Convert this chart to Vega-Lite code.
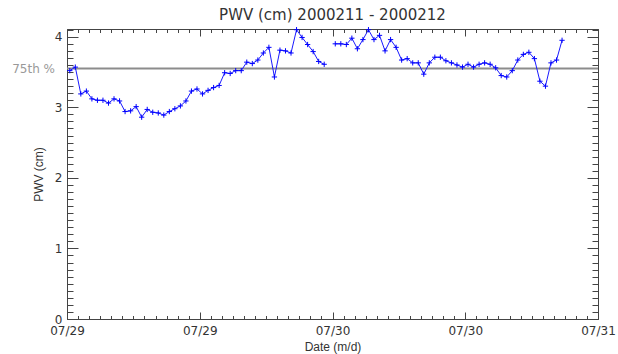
{
  "$schema": "https://vega.github.io/schema/vega-lite/v6.json",
  "width": 531,
  "height": 290,
  "autosize": "none",
  "padding": {"left": 67, "top": 29, "right": 20, "bottom": 35},
  "background": "white",
  "title": {"text": "PWV (cm) 2000211 - 2000212", "font": "DejaVu Sans", "fontSize": 15, "fontWeight": "normal", "color": "#333333", "offset": 2},
  "config": {
    "view": {"stroke": null},
    "axis": {"grid": false, "domainColor": "#444444", "tickColor": "#444444", "labelColor": "#333333", "titleColor": "#333333", "labelFont": "DejaVu Sans", "labelFontSize": 12, "titleFont": "Liberation Sans", "titleFontSize": 12, "titleFontWeight": "normal", "labelOverlap": false, "labelFlush": false, "labelBound": false}
  },
  "datasets": {
    "pwv": [
      {"t": "2000-07-29T00:15:00Z", "v": 3.52, "s": 1},
      {"t": "2000-07-29T00:45:00Z", "v": 3.57, "s": 1},
      {"t": "2000-07-29T01:15:00Z", "v": 3.19, "s": 1},
      {"t": "2000-07-29T01:45:00Z", "v": 3.23, "s": 1},
      {"t": "2000-07-29T02:15:00Z", "v": 3.12, "s": 1},
      {"t": "2000-07-29T02:45:00Z", "v": 3.10, "s": 1},
      {"t": "2000-07-29T03:15:00Z", "v": 3.10, "s": 1},
      {"t": "2000-07-29T03:45:00Z", "v": 3.06, "s": 1},
      {"t": "2000-07-29T04:15:00Z", "v": 3.12, "s": 1},
      {"t": "2000-07-29T04:45:00Z", "v": 3.09, "s": 1},
      {"t": "2000-07-29T05:15:00Z", "v": 2.94, "s": 1},
      {"t": "2000-07-29T05:45:00Z", "v": 2.95, "s": 1},
      {"t": "2000-07-29T06:15:00Z", "v": 3.01, "s": 1},
      {"t": "2000-07-29T06:45:00Z", "v": 2.86, "s": 1},
      {"t": "2000-07-29T07:15:00Z", "v": 2.97, "s": 1},
      {"t": "2000-07-29T07:45:00Z", "v": 2.93, "s": 1},
      {"t": "2000-07-29T08:15:00Z", "v": 2.92, "s": 1},
      {"t": "2000-07-29T08:45:00Z", "v": 2.89, "s": 1},
      {"t": "2000-07-29T09:15:00Z", "v": 2.94, "s": 1},
      {"t": "2000-07-29T09:45:00Z", "v": 2.98, "s": 1},
      {"t": "2000-07-29T10:15:00Z", "v": 3.02, "s": 1},
      {"t": "2000-07-29T10:45:00Z", "v": 3.09, "s": 1},
      {"t": "2000-07-29T11:15:00Z", "v": 3.23, "s": 1},
      {"t": "2000-07-29T11:45:00Z", "v": 3.26, "s": 1},
      {"t": "2000-07-29T12:15:00Z", "v": 3.19, "s": 1},
      {"t": "2000-07-29T12:45:00Z", "v": 3.24, "s": 1},
      {"t": "2000-07-29T13:15:00Z", "v": 3.28, "s": 1},
      {"t": "2000-07-29T13:45:00Z", "v": 3.31, "s": 1},
      {"t": "2000-07-29T14:15:00Z", "v": 3.49, "s": 1},
      {"t": "2000-07-29T14:45:00Z", "v": 3.48, "s": 1},
      {"t": "2000-07-29T15:15:00Z", "v": 3.52, "s": 1},
      {"t": "2000-07-29T15:45:00Z", "v": 3.52, "s": 1},
      {"t": "2000-07-29T16:15:00Z", "v": 3.64, "s": 1},
      {"t": "2000-07-29T16:45:00Z", "v": 3.62, "s": 1},
      {"t": "2000-07-29T17:15:00Z", "v": 3.67, "s": 1},
      {"t": "2000-07-29T17:45:00Z", "v": 3.77, "s": 1},
      {"t": "2000-07-29T18:15:00Z", "v": 3.85, "s": 1},
      {"t": "2000-07-29T18:45:00Z", "v": 3.43, "s": 1},
      {"t": "2000-07-29T19:15:00Z", "v": 3.81, "s": 1},
      {"t": "2000-07-29T19:45:00Z", "v": 3.80, "s": 1},
      {"t": "2000-07-29T20:15:00Z", "v": 3.77, "s": 1},
      {"t": "2000-07-29T20:45:00Z", "v": 4.10, "s": 1},
      {"t": "2000-07-29T21:15:00Z", "v": 3.99, "s": 1},
      {"t": "2000-07-29T21:45:00Z", "v": 3.89, "s": 1},
      {"t": "2000-07-29T22:15:00Z", "v": 3.79, "s": 1},
      {"t": "2000-07-29T22:45:00Z", "v": 3.65, "s": 1},
      {"t": "2000-07-29T23:15:00Z", "v": 3.61, "s": 1},
      {"t": "2000-07-30T00:15:00Z", "v": 3.90, "s": 2},
      {"t": "2000-07-30T00:45:00Z", "v": 3.90, "s": 2},
      {"t": "2000-07-30T01:15:00Z", "v": 3.89, "s": 2},
      {"t": "2000-07-30T01:45:00Z", "v": 3.98, "s": 2},
      {"t": "2000-07-30T02:15:00Z", "v": 3.83, "s": 2},
      {"t": "2000-07-30T02:45:00Z", "v": 3.96, "s": 2},
      {"t": "2000-07-30T03:15:00Z", "v": 4.10, "s": 2},
      {"t": "2000-07-30T03:45:00Z", "v": 3.96, "s": 2},
      {"t": "2000-07-30T04:15:00Z", "v": 4.02, "s": 2},
      {"t": "2000-07-30T04:45:00Z", "v": 3.80, "s": 2},
      {"t": "2000-07-30T05:15:00Z", "v": 3.96, "s": 2},
      {"t": "2000-07-30T05:45:00Z", "v": 3.85, "s": 2},
      {"t": "2000-07-30T06:15:00Z", "v": 3.67, "s": 2},
      {"t": "2000-07-30T06:45:00Z", "v": 3.69, "s": 2},
      {"t": "2000-07-30T07:15:00Z", "v": 3.63, "s": 2},
      {"t": "2000-07-30T07:45:00Z", "v": 3.63, "s": 2},
      {"t": "2000-07-30T08:15:00Z", "v": 3.47, "s": 2},
      {"t": "2000-07-30T08:45:00Z", "v": 3.63, "s": 2},
      {"t": "2000-07-30T09:15:00Z", "v": 3.71, "s": 2},
      {"t": "2000-07-30T09:45:00Z", "v": 3.71, "s": 2},
      {"t": "2000-07-30T10:15:00Z", "v": 3.66, "s": 2},
      {"t": "2000-07-30T10:45:00Z", "v": 3.63, "s": 2},
      {"t": "2000-07-30T11:15:00Z", "v": 3.60, "s": 2},
      {"t": "2000-07-30T11:45:00Z", "v": 3.57, "s": 2},
      {"t": "2000-07-30T12:15:00Z", "v": 3.61, "s": 2},
      {"t": "2000-07-30T12:45:00Z", "v": 3.57, "s": 2},
      {"t": "2000-07-30T13:15:00Z", "v": 3.61, "s": 2},
      {"t": "2000-07-30T13:45:00Z", "v": 3.63, "s": 2},
      {"t": "2000-07-30T14:15:00Z", "v": 3.61, "s": 2},
      {"t": "2000-07-30T14:45:00Z", "v": 3.56, "s": 2},
      {"t": "2000-07-30T15:15:00Z", "v": 3.45, "s": 2},
      {"t": "2000-07-30T15:45:00Z", "v": 3.43, "s": 2},
      {"t": "2000-07-30T16:15:00Z", "v": 3.52, "s": 2},
      {"t": "2000-07-30T16:45:00Z", "v": 3.67, "s": 2},
      {"t": "2000-07-30T17:15:00Z", "v": 3.75, "s": 2},
      {"t": "2000-07-30T17:45:00Z", "v": 3.78, "s": 2},
      {"t": "2000-07-30T18:15:00Z", "v": 3.69, "s": 2},
      {"t": "2000-07-30T18:45:00Z", "v": 3.37, "s": 2},
      {"t": "2000-07-30T19:15:00Z", "v": 3.30, "s": 2},
      {"t": "2000-07-30T19:45:00Z", "v": 3.63, "s": 2},
      {"t": "2000-07-30T20:15:00Z", "v": 3.67, "s": 2},
      {"t": "2000-07-30T20:45:00Z", "v": 3.95, "s": 2}
    ],
    "ref": [{"label": "75th %", "v": 3.55}]
  },
  "data": {"name": "pwv"},
  "layer": [
    {
      "data": {"name": "ref"},
      "mark": {"type": "rule", "color": "#8c8c8c", "strokeWidth": 2},
      "encoding": {
        "y": {"field": "v", "type": "quantitative", "axis": null}
      }
    },
    {
      "mark": {"type": "line", "color": "#1a1aff", "strokeWidth": 1},
      "encoding": {
        "x": {"field": "t", "type": "temporal", "title": "Date (m/d)",
              "scale": {"type": "utc", "domain": [964828800000, 965001600000]},
              "axis": {"orient": "bottom", "labelExpr": "utcFormat(datum.value, '%m/%d')", "values": [964828800000, 964872000000, 964915200000, 964958400000, 965001600000], "ticks": false, "domain": true, "labelPadding": 6, "titlePadding": 5}},
        "y": {"field": "v", "type": "quantitative", "title": "PWV (cm)",
              "scale": {"domain": [0, 4.11], "nice": false, "zero": false},
              "axis": {"orient": "left", "values": [0, 1, 2, 3, 4], "ticks": false, "domain": true, "labelPadding": 5, "titlePadding": 9}},
        "detail": {"field": "s", "type": "nominal"}
      }
    },
    {
      "mark": {"type": "point", "shape": "M-1,0L1,0M0,-1L0,1", "filled": false, "color": "#0000ff", "strokeWidth": 1, "size": 28, "opacity": 1},
      "encoding": {
        "x": {"field": "t", "type": "temporal", "axis": {"orient": "bottom", "values": [964828800000, 964872000000, 964915200000, 964958400000, 965001600000], "labels": false, "domain": false, "title": null, "tickSize": -7}},
        "y": {"field": "v", "type": "quantitative", "axis": {"orient": "left", "values": [0, 1, 2, 3, 4], "labels": false, "domain": false, "title": null, "tickSize": -11}}
      }
    },
    {
      "mark": {"type": "point", "opacity": 0},
      "encoding": {
        "x": {"field": "t", "type": "temporal", "axis": {"orient": "bottom", "values": [964828800000, 964832400000, 964836000000, 964839600000, 964843200000, 964846800000, 964850400000, 964854000000, 964857600000, 964861200000, 964864800000, 964868400000, 964872000000, 964875600000, 964879200000, 964882800000, 964886400000, 964890000000, 964893600000, 964897200000, 964900800000, 964904400000, 964908000000, 964911600000, 964915200000, 964918800000, 964922400000, 964926000000, 964929600000, 964933200000, 964936800000, 964940400000, 964944000000, 964947600000, 964951200000, 964954800000, 964958400000, 964962000000, 964965600000, 964969200000, 964972800000, 964976400000, 964980000000, 964983600000, 964987200000, 964990800000, 964994400000, 964998000000, 965001600000], "labels": false, "domain": false, "title": null, "tickSize": -3.5}},
        "y": {"field": "v", "type": "quantitative", "axis": {"orient": "left", "values": [0.1,0.2,0.3,0.4,0.5,0.6,0.7,0.8,0.9,1.1,1.2,1.3,1.4,1.5,1.6,1.7,1.8,1.9,2.1,2.2,2.3,2.4,2.5,2.6,2.7,2.8,2.9,3.1,3.2,3.3,3.4,3.5,3.6,3.7,3.8,3.9,4.1], "labels": false, "domain": false, "title": null, "tickSize": -6}}
      }
    },
    {
      "mark": {"type": "point", "opacity": 0},
      "encoding": {
        "x": {"field": "t", "type": "temporal", "axis": {"orient": "top", "values": [964828800000, 964872000000, 964915200000, 964958400000, 965001600000], "labels": false, "domain": true, "title": null, "tickSize": -7}},
        "y": {"field": "v", "type": "quantitative", "axis": {"orient": "right", "values": [0, 1, 2, 3, 4], "labels": false, "domain": true, "title": null, "tickSize": -11}}
      }
    },
    {
      "mark": {"type": "point", "opacity": 0},
      "encoding": {
        "x": {"field": "t", "type": "temporal", "axis": {"orient": "top", "values": [964828800000, 964832400000, 964836000000, 964839600000, 964843200000, 964846800000, 964850400000, 964854000000, 964857600000, 964861200000, 964864800000, 964868400000, 964872000000, 964875600000, 964879200000, 964882800000, 964886400000, 964890000000, 964893600000, 964897200000, 964900800000, 964904400000, 964908000000, 964911600000, 964915200000, 964918800000, 964922400000, 964926000000, 964929600000, 964933200000, 964936800000, 964940400000, 964944000000, 964947600000, 964951200000, 964954800000, 964958400000, 964962000000, 964965600000, 964969200000, 964972800000, 964976400000, 964980000000, 964983600000, 964987200000, 964990800000, 964994400000, 964998000000, 965001600000], "labels": false, "domain": false, "title": null, "tickSize": -3.5}},
        "y": {"field": "v", "type": "quantitative", "axis": {"orient": "right", "values": [0.1,0.2,0.3,0.4,0.5,0.6,0.7,0.8,0.9,1.1,1.2,1.3,1.4,1.5,1.6,1.7,1.8,1.9,2.1,2.2,2.3,2.4,2.5,2.6,2.7,2.8,2.9,3.1,3.2,3.3,3.4,3.5,3.6,3.7,3.8,3.9,4.1], "labels": false, "domain": false, "title": null, "tickSize": -6}}
      }
    },
    {
      "data": {"name": "ref"},
      "mark": {"type": "text", "align": "right", "baseline": "middle", "dx": -12, "font": "DejaVu Sans", "fontSize": 12, "color": "#999999"},
      "encoding": {
        "x": {"datum": 964828800000, "type": "temporal", "axis": null},
        "y": {"field": "v", "type": "quantitative", "axis": null},
        "text": {"field": "label"}
      }
    }
  ],
  "resolve": {"axis": {"x": "independent", "y": "independent"}}
}
